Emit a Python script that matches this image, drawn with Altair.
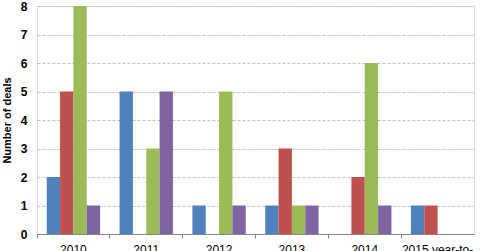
import altair as alt
import pandas as pd

years = ["2010", "2011", "2012", "2013", "2014", "2015 year-to-date"]
series_names = ["Series 1", "Series 2", "Series 3", "Series 4"]
s1 = [2, 5, 1, 1, 0, 1]
s2 = [5, 0, 0, 3, 2, 1]
s3 = [8, 3, 5, 1, 6, 0]
s4 = [1, 5, 1, 1, 1, 0]
colors = ["#4F81BD", "#C0504D", "#9BBB59", "#8064A2"]

rows = []
for name, vals in zip(series_names, [s1, s2, s3, s4]):
    for y, v in zip(years, vals):
        rows.append({"year": y, "series": name, "deals": v})
df = pd.DataFrame(rows)

chart = alt.Chart(df).mark_bar().encode(
    x=alt.X("year:N", sort=years, title=None,
            scale=alt.Scale(paddingInner=0, paddingOuter=0),
            axis=alt.Axis(labelAngle=0, bandPosition=0, ticks=True, tickSize=4,
                          tickColor="#868686", domainColor="#868686",
                          labelFont="Liberation Sans", labelFontSize=12,
                          labelColor="#000000", labelPadding=6,
                          labelExpr="datum.value == '2015 year-to-date' ? ['2015 year-to-', 'date'] : datum.value")),
    xOffset=alt.XOffset("series:N", sort=series_names,
                        scale=alt.Scale(paddingInner=0, paddingOuter=0.73)),
    y=alt.Y("deals:Q", title="Number of deals",
            scale=alt.Scale(domain=[0, 8], nice=False),
            axis=alt.Axis(values=list(range(9)), ticks=False, domain=False,
                          grid=True, gridDash=[3, 2], gridColor="#BFBFBF",
                          labelFont="Liberation Sans", labelFontSize=12,
                          labelFontWeight="bold", labelColor="#000000",
                          labelPadding=10,
                          titleFont="Liberation Sans", titleFontSize=11,
                          titleFontWeight="bold", titleColor="#000000",
                          titlePadding=8)),
    color=alt.Color("series:N", sort=series_names,
                    scale=alt.Scale(domain=series_names, range=colors),
                    legend=None),
).properties(
    width=437, height=228,
    autosize=alt.AutoSizeParams(type="none"),
    padding={"left": 37, "top": 6, "right": 6, "bottom": 17},
).configure_view(stroke=None).configure(background="white")

chart.save("out.html", embed_options={"renderer": "svg", "actions": False})
